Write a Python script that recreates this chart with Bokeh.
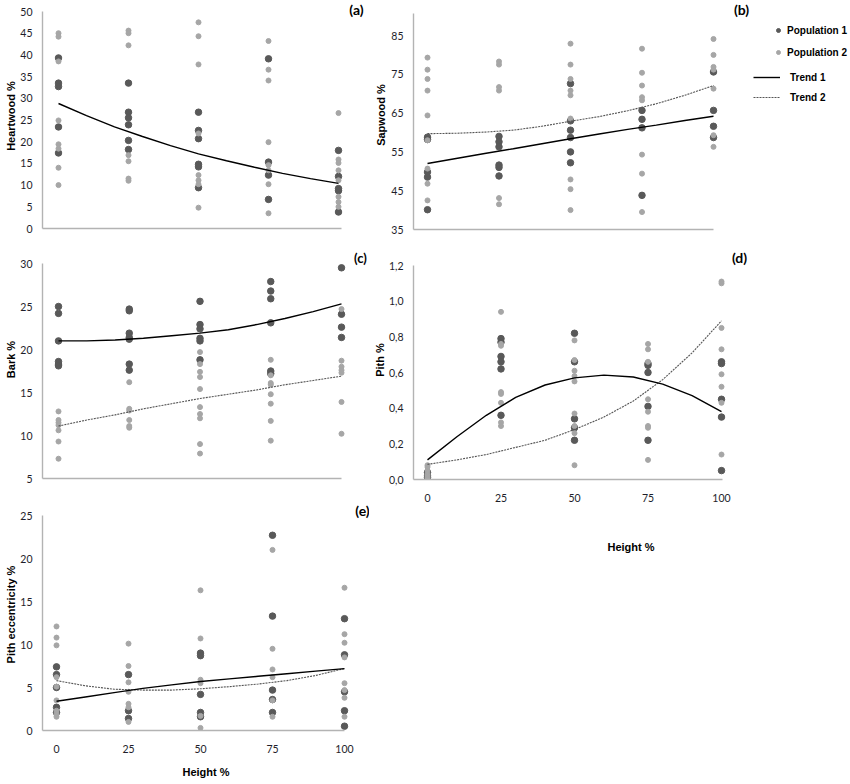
import math
from bokeh.plotting import figure
from bokeh.layouts import column, row
from bokeh.models import (Range1d, FixedTicker, Label, Legend, LegendItem,
                          CustomJSTickFormatter)
from bokeh.embed import file_html
from bokeh.resources import INLINE

# ---------------- data ----------------
heights = [0, 25, 50, 75, 100]
trend_heights = [0, 10, 20, 30, 40, 50, 60, 70, 80, 90, 100]
height_ticks = [0, 25, 50, 75, 100]

heartwood_pop1 = [[39.3, 33.5, 32.7, 23.4, 17.4],
                  [33.5, 26.8, 25.5, 23.9, 20.3, 18.2],
                  [26.8, 22.6, 20.7, 14.8, 14.2, 9.4],
                  [39.1, 15.3, 12.3, 6.7],
                  [18.0, 12.0, 9.2, 8.7, 3.8]]
heartwood_pop2 = [[45.0, 44.2, 38.5, 24.9, 19.4, 18.4, 14.0, 10.0],
                  [45.6, 45.0, 42.2, 16.9, 15.5, 11.5, 11.0],
                  [47.5, 44.3, 37.8, 21.9, 12.3, 11.1, 10.2, 4.8],
                  [43.2, 36.6, 34.1, 19.9, 14.6, 13.4, 10.2, 3.5],
                  [26.6, 15.9, 15.1, 13.4, 11.1, 7.3, 6.1, 5.0]]
heartwood_trend1 = [28.8, 26.0, 23.4, 21.2, 19.1, 17.2, 15.6, 14.1, 12.7, 11.5, 10.4]

sapwood_pop1 = [[58.8, 58.2, 49.8, 48.5, 40.1],
                [59.0, 57.6, 56.3, 51.6, 51.0, 48.8],
                [72.6, 63.0, 60.6, 58.7, 55.0, 52.2],
                [65.7, 63.4, 61.2, 43.8],
                [75.6, 65.7, 61.6, 58.7]]
sapwood_pop2 = [[79.3, 76.2, 73.8, 70.8, 64.4, 58.0, 50.7, 46.8, 42.5],
                [78.3, 77.5, 71.7, 70.8, 43.1, 41.5],
                [82.9, 77.5, 73.8, 70.8, 69.6, 63.6, 47.9, 45.4, 40.0],
                [81.6, 75.4, 72.1, 69.1, 68.3, 54.3, 49.4, 39.5],
                [84.1, 80.0, 76.9, 76.2, 71.3, 59.3, 56.3]]
sapwood_trend1 = [52.0, 53.3, 54.6, 55.8, 57.1, 58.4, 59.6, 60.8, 61.9, 63.1, 64.2]
sapwood_trend2 = [59.7, 59.8, 60.1, 60.6, 61.6, 62.9, 64.1, 65.6, 67.4, 69.6, 72.1]

bark_pop1 = [[25.0, 24.2, 21.0, 18.6, 18.3, 18.1],
             [24.7, 24.5, 21.9, 21.4, 21.2, 18.3, 17.6],
             [25.6, 22.9, 22.4, 21.3, 21.0, 18.8],
             [27.9, 26.8, 25.9, 23.1, 17.5, 17.2],
             [29.5, 24.1, 22.6, 21.4]]
bark_pop2 = [[12.8, 11.8, 11.5, 11.2, 10.6, 9.3, 7.3],
             [16.2, 13.1, 12.9, 11.8, 11.1, 10.9],
             [19.7, 18.3, 17.4, 16.8, 15.4, 13.3, 12.5, 12.0, 9.0, 7.9],
             [18.8, 17.0, 16.1, 15.9, 14.8, 13.7, 11.7, 9.4],
             [24.7, 18.7, 18.0, 17.6, 17.3, 13.9, 10.2]]
bark_trend1 = [21.0, 21.0, 21.1, 21.3, 21.6, 21.9, 22.3, 22.9, 23.6, 24.4, 25.3]
bark_trend2 = [11.1, 11.8, 12.4, 13.1, 13.7, 14.3, 14.8, 15.3, 15.9, 16.4, 16.9]

pith_pop1 = [[0.04, 0.02, 0.01],
             [0.79, 0.77, 0.69, 0.66, 0.62, 0.36],
             [0.82, 0.66, 0.34, 0.29, 0.22],
             [0.65, 0.64, 0.60, 0.41, 0.22],
             [0.66, 0.65, 0.45, 0.35, 0.05]]
pith_pop2 = [[0.08, 0.07, 0.05, 0.03, 0.02, 0.01, 0.0],
             [0.94, 0.76, 0.75, 0.49, 0.48, 0.43, 0.32, 0.30],
             [0.78, 0.67, 0.61, 0.58, 0.55, 0.37, 0.30, 0.26, 0.08],
             [0.76, 0.73, 0.66, 0.45, 0.38, 0.30, 0.29, 0.11],
             [1.11, 1.10, 0.85, 0.73, 0.59, 0.52, 0.43, 0.14]]
pith_trend1 = [0.11, 0.24, 0.36, 0.46, 0.53, 0.57, 0.585, 0.575, 0.535, 0.47, 0.38]
pith_trend2 = [0.085, 0.11, 0.14, 0.18, 0.22, 0.28, 0.35, 0.44, 0.56, 0.71, 0.89]

ecc_pop1 = [[7.4, 6.5, 5.0, 2.7, 2.1],
            [6.5, 2.3, 1.4],
            [9.0, 8.7, 4.2, 2.1, 1.6],
            [22.7, 13.3, 4.7, 3.6, 2.1],
            [13.0, 8.8, 4.5, 2.3, 0.5]]
ecc_pop2 = [[12.1, 10.8, 9.9, 6.2, 5.1, 3.5, 2.3, 1.9, 1.6],
            [10.1, 7.5, 5.6, 4.5, 3.1, 2.7, 1.0],
            [16.3, 10.7, 5.9, 5.5, 1.7, 0.3],
            [21.0, 9.5, 7.1, 6.2, 3.5, 1.6],
            [16.6, 11.2, 10.2, 8.5, 5.5, 4.7, 3.8, 1.6]]
ecc_trend1 = [3.4, 3.9, 4.4, 4.9, 5.3, 5.7, 6.0, 6.3, 6.6, 6.9, 7.2]
ecc_trend2 = [5.8, 5.2, 4.8, 4.7, 4.7, 4.85, 5.1, 5.4, 5.8, 6.4, 7.2]

# ---------------- styling ----------------
DARK = "#595959"
LIGHT = "#a6a6a6"
AXIS = "#b3b3b3"
TICK_FONT = "Lato"
TITLE_FONT = "Liberation Sans"
PANEL_FONT = "Lato"


def expand(groups):
    xs, ys = [], []
    for h, vals in zip(heights, groups):
        xs += [h] * len(vals)
        ys += vals
    return xs, ys


class Panel:
    """fig_box / frame_box in page pixels; xcal / ycal: two (value, pixel) pairs."""

    def __init__(self, fig_box, frame_box, xcal, ycal, xaxis_end_px, yaxis_top_px,
                 yticks, xticks, ytitle, xtitle=None, yfmt=None,
                 ytick_standoff=10, ylab_standoff=0, xlab_standoff=12):
        fx0, fy0, fx1, fy1 = fig_box
        gx0, gy0, gx1, gy1 = frame_box
        (xv0, xp0), (xv1, xp1) = xcal
        (yv0, yp0), (yv1, yp1) = ycal
        self.sx = (xp1 - xp0) / (xv1 - xv0)
        self.sy = (yp1 - yp0) / (yv1 - yv0)   # negative (pixels go down)
        self.xcal, self.ycal = (xv0, xp0), (yv0, yp0)
        xr = (self.px2x(gx0), self.px2x(gx1))
        yr = (self.py2y(gy1), self.py2y(gy0))
        p = figure(frame_width=gx1 - gx0, frame_height=gy1 - gy0,
                   x_range=Range1d(*xr), y_range=Range1d(*yr),
                   output_backend="svg", toolbar_location=None,
                   min_border_left=gx0 - fx0, min_border_right=fx1 - gx1,
                   min_border_top=gy0 - fy0, min_border_bottom=fy1 - gy1,
                   background_fill_color="white", border_fill_color="white")
        p.outline_line_color = None
        p.xgrid.visible = False
        p.ygrid.visible = False
        for ax in (p.xaxis[0], p.yaxis[0]):
            ax.axis_line_color = AXIS
            ax.axis_line_width = 1.4
            ax.major_tick_line_color = None
            ax.minor_tick_line_color = None
            ax.major_tick_out = 0
            ax.major_tick_in = 0
            ax.major_label_text_font = TICK_FONT
            ax.major_label_text_font_size = "10.5px"
            ax.major_label_text_color = "#1e1e2a"
            ax.major_label_text_line_height = 1.0
            ax.axis_label_text_font = TITLE_FONT
            ax.axis_label_text_font_style = "bold"
            ax.axis_label_text_font_size = "11px"
            ax.axis_label_text_line_height = 1.0
            ax.axis_label_text_color = "#000000"
        ya = p.yaxis[0]
        ya.ticker = FixedTicker(ticks=yticks)
        ya.major_label_standoff = ytick_standoff
        ya.bounds = (yr[0], self.py2y(yaxis_top_px))
        ya.axis_label = ytitle
        ya.axis_label_standoff = ylab_standoff
        if yfmt is not None:
            ya.formatter = yfmt
        xa = p.xaxis[0]
        xa.ticker = FixedTicker(ticks=xticks)
        xa.major_label_standoff = 14
        xa.bounds = (xr[0], self.px2x(xaxis_end_px))
        if xtitle:
            xa.axis_label = xtitle
            xa.axis_label_standoff = xlab_standoff
        self.p = p

    def px2x(self, px):
        return self.xcal[0] + (px - self.xcal[1]) / self.sx

    def py2y(self, py):
        return self.ycal[0] + (py - self.ycal[1]) / self.sy

    def text(self, px, py, txt, size="14px", font=PANEL_FONT):
        self.p.add_layout(Label(x=self.px2x(px), y=self.py2y(py), text=txt,
                                text_font=font, text_font_size=size,
                                text_font_style="bold", text_color="#000000",
                                text_align="center", text_baseline="middle"))

    def draw(self, pop1, pop2, trend1=None, trend2=None):
        x1, y1 = expand(pop1)
        x2, y2 = expand(pop2)
        r1 = self.p.scatter(x1, y1, size=6.5, color=DARK, line_color=DARK)
        r2 = self.p.scatter(x2, y2, size=5, color=LIGHT, line_color=LIGHT)
        l1 = l2 = None
        if trend2 is not None:
            l2 = self.p.line(trend_heights, trend2, line_color="#555555",
                             line_width=1.1, line_dash="2 1")
        if trend1 is not None:
            l1 = self.p.line(trend_heights, trend1, line_color="#000000", line_width=1.4)
        return r1, r2, l1, l2


comma_fmt = CustomJSTickFormatter(code="return tick.toFixed(1).replace('.', ',');")

SPLIT = 369     # boundary between left and right columns
RIGHT = 848

# (a) Heartwood
pa = Panel((0, 0, SPLIT, 240), (41, 0, SPLIT, 228),
           ((0, 57), (100, 337)), ((0, 228), (50, 11)), 340, 11,
           list(range(0, 51, 5)), [], "Heartwood  %")
pa.draw(heartwood_pop1, heartwood_pop2, heartwood_trend1)
pa.text(355, 9, "(a)")

# (c) Bark
pc = Panel((0, 240, SPLIT, 495), (41, 240, SPLIT, 478),
           ((0, 57), (100, 340)), ((5, 478), (30, 263)), 340, 263,
           list(range(5, 31, 5)), [], "Bark %")
pc.draw(bark_pop1, bark_pop2, bark_trend1, bark_trend2)
pc.text(359, 257, "(c)", size="13px")

# (e) Pith eccentricity
pe = Panel((0, 495, SPLIT, 782), (42, 495, SPLIT, 730),
           ((0, 56), (100, 344)), ((0, 730), (25, 515)), 344, 515,
           list(range(0, 26, 5)), height_ticks, "Pith eccentricity  %",
           xtitle="Height %", xlab_standoff=10)
pe.draw(ecc_pop1, ecc_pop2, ecc_trend1, ecc_trend2)
pe.text(362, 510, "(e)")

# (b) Sapwood
pb = Panel((SPLIT, 0, RIGHT, 240), (413, 0, RIGHT, 229),
           ((0, 427), (100, 713)), ((35, 229), (85, 35)), 713, 13,
           list(range(35, 86, 10)), [], "Sapwood %", ytick_standoff=10, ylab_standoff=1)
rb1, rb2, lb1, lb2 = pb.draw(sapwood_pop1, sapwood_pop2, sapwood_trend1, sapwood_trend2)
pb.text(741, 9, "(b)")

leg_pop = Legend(items=[LegendItem(label="Population 1", renderers=[rb1]),
                        LegendItem(label="Population 2", renderers=[rb2])],
                 location=(360, 167), glyph_width=10, glyph_height=20,
                 label_height=20, label_standoff=4, spacing=2, padding=0, margin=0,
                 label_text_font=TITLE_FONT, label_text_font_style="bold",
                 label_text_font_size="10px", label_text_color="#000000",
                 border_line_color=None, background_fill_alpha=0)
leg_trend = Legend(items=[LegendItem(label="Trend 1", renderers=[lb1]),
                          LegendItem(label="Trend 2", renderers=[lb2])],
                   location=(340, 122), glyph_width=27, glyph_height=20,
                   label_height=20, label_standoff=10, spacing=0, padding=0, margin=0,
                   label_text_font=TITLE_FONT, label_text_font_style="bold",
                   label_text_font_size="10px", label_text_color="#000000",
                   border_line_color=None, background_fill_alpha=0)
pb.p.add_layout(leg_pop, "center")
pb.p.add_layout(leg_trend, "center")

# (d) Pith
pd_ = Panel((SPLIT, 240, RIGHT, 562), (413, 240, RIGHT, 479),
            ((0, 427), (100, 721)), ((0, 479), (1.2, 265)), 722, 265,
            [0, 0.2, 0.4, 0.6, 0.8, 1.0, 1.2], height_ticks, "Pith %",
            xtitle="Height %", yfmt=comma_fmt, ytick_standoff=10, ylab_standoff=0,
            xlab_standoff=36)
pd_.draw(pith_pop1, pith_pop2, pith_trend1, pith_trend2)
pd_.text(739, 257, "(d)")

layout = row(column(pa.p, pc.p, pe.p, spacing=0),
             column(pb.p, pd_.p, spacing=0), spacing=0)

open("out.html", "w").write(file_html(layout, INLINE))
